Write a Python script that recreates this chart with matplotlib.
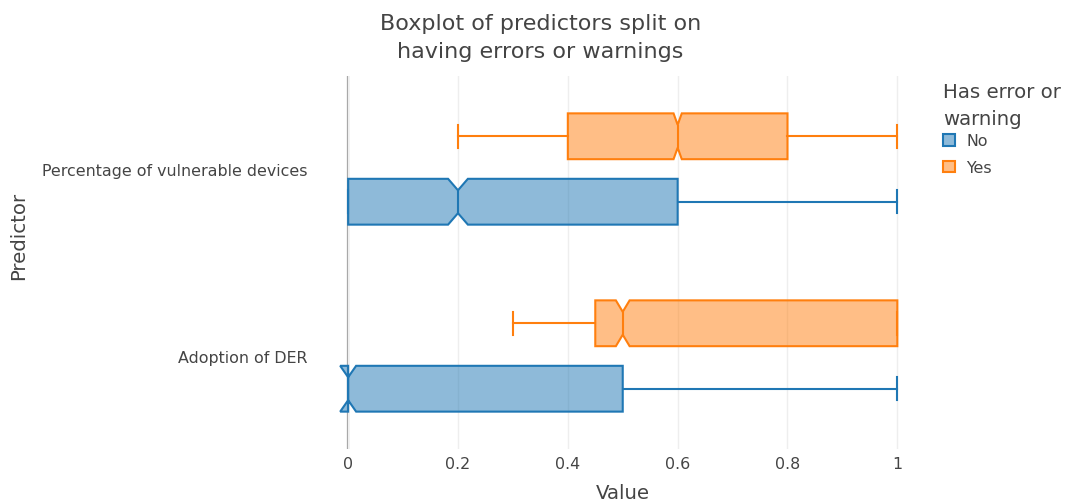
import matplotlib
matplotlib.use("Agg")
import matplotlib.pyplot as plt
from matplotlib.patches import Patch

# predictors on the y axis (bottom to top)
predictors = ["Adoption of DER", "Percentage of vulnerable devices"]
groups = ["No", "Yes"]
group_colors = {"No": "#1f77b4", "Yes": "#ff7f0e"}

# box statistics per group, one entry per predictor
whislo = {"No": [0.0, 0.0], "Yes": [0.3, 0.2]}
q1 = {"No": [0.0, 0.0], "Yes": [0.45, 0.4]}
med = {"No": [0.0, 0.2], "Yes": [0.5, 0.6]}
q3 = {"No": [0.5, 0.6], "Yes": [1.0, 0.8]}
whishi = {"No": [1.0, 1.0], "Yes": [1.0, 1.0]}
cilo = {"No": [-0.0145, 0.182], "Yes": [0.4875, 0.5925]}
cihi = {"No": [0.0145, 0.218], "Yes": [0.5125, 0.6075]}

xticks = [0, 0.2, 0.4, 0.6, 0.8, 1]
xticklabels = ["0", "0.2", "0.4", "0.6", "0.8", "1"]

text_col = "#444444"
offsets = {"No": -0.175, "Yes": 0.175}
box_w = 0.245

fig = plt.figure(figsize=(10.7, 5.02), dpi=100)
ax = fig.add_axes([0.311, 0.1026, 0.542, 0.745])

for g in groups:
    c = group_colors[g]
    stats = []
    for i in range(len(predictors)):
        stats.append(dict(whislo=whislo[g][i], q1=q1[g][i], med=med[g][i],
                          q3=q3[g][i], whishi=whishi[g][i],
                          cilo=cilo[g][i], cihi=cihi[g][i], fliers=[]))
    pos = [i + offsets[g] for i in range(len(predictors))]
    ax.bxp(stats, positions=pos, widths=box_w, orientation="horizontal",
           shownotches=True, showfliers=False, patch_artist=True,
           boxprops=dict(facecolor=matplotlib.colors.to_rgba(c, 0.5),
                         edgecolor=c, linewidth=1.5),
           whiskerprops=dict(color=c, linewidth=1.5),
           capprops=dict(color=c, linewidth=1.5),
           medianprops=dict(color=c, linewidth=1.5),
           zorder=3)

ax.set_xlim(-0.028, 1.028)
ax.set_ylim(-0.5, 1.5)
ax.set_xticks(xticks)
ax.set_xticklabels(xticklabels)
ax.set_yticks(range(len(predictors)))
ax.set_yticklabels(predictors)
ax.tick_params(axis="both", length=0, labelsize=11.4, labelcolor=text_col)
ax.tick_params(axis="x", pad=5)
ax.tick_params(axis="y", pad=18)
for s in ax.spines.values():
    s.set_visible(False)
ax.grid(axis="x", color="#eeeeee", linewidth=1, zorder=0)
ax.axvline(0, color="#999999", linewidth=1.6, zorder=1)

ax.set_xlabel("Value", fontsize=14.2, color=text_col, labelpad=8)
fig.text(0.017, 0.53, "Predictor", rotation=90, fontsize=14.2,
         color=text_col, ha="center", va="center")

fig.text(0.505, 0.925, "Boxplot of predictors split on\nhaving errors or warnings",
         ha="center", va="center", fontsize=16, color=text_col, linespacing=1.5)

handles = [Patch(facecolor=matplotlib.colors.to_rgba(group_colors[g], 0.5),
                 edgecolor=group_colors[g], linewidth=1.5, label=g) for g in groups]
leg = fig.legend(handles=handles, title="Has error or\nwarning",
                 loc="upper left", bbox_to_anchor=(0.874, 0.85),
                 frameon=False, fontsize=11.4, title_fontsize=14.2,
                 handlelength=0.75, handleheight=0.75, handletextpad=0.7,
                 labelspacing=0.75, borderpad=0)
leg._legend_box.align = "left"
leg._legend_box.sep = 4
for t in leg.get_texts():
    t.set_color(text_col)
leg.get_title().set_color(text_col)
leg.get_title().set_linespacing(1.5)

fig.savefig("out.png", dpi=100)
